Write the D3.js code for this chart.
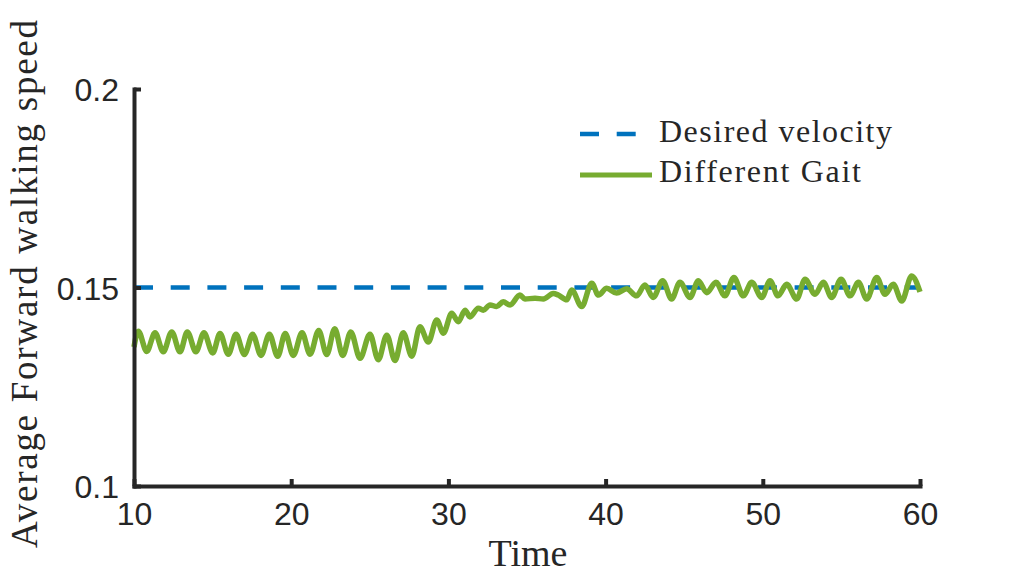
<!DOCTYPE html>
<html>
<head>
<meta charset="utf-8">
<script src="https://cdn.jsdelivr.net/npm/d3@7"></script>
<style>
  html, body { margin: 0; padding: 0; background: #ffffff; }
  svg { display: block; }
</style>
</head>
<body>
<svg id="chart" width="1017" height="580"></svg>
<script>
// ---- data ----
const xTicks = [10, 20, 30, 40, 50, 60];
const yTicks = [0.1, 0.15, 0.2];
const yTickLabels = ["0.1", "0.15", "0.2"];
const seriesNames = ["Desired velocity", "Different Gait"];

const desiredTime = [10, 60];
const desiredSpeed = [0.15, 0.15];

const gaitTime = [
  10.00, 10.27, 10.81, 11.34, 11.86, 12.40, 12.93, 13.39, 13.94, 14.45,
  15.01, 15.47, 16.00, 16.49, 17.02, 17.55, 18.08, 18.61, 19.14, 19.62,
  20.13, 20.69, 21.20, 21.75, 22.26, 22.77, 23.28, 23.79, 24.38, 25.01,
  25.54, 26.08, 26.60, 27.13, 27.67, 28.19, 28.72, 29.26, 29.68, 30.21,
  30.63, 31.06, 31.37, 31.90, 32.22, 32.65, 33.07, 33.49, 33.92, 34.55,
  34.87, 35.51, 36.04, 36.67, 36.99, 37.53, 37.84, 38.48, 39.12, 39.54,
  40.07, 40.70, 41.34, 41.97, 42.50, 43.03, 43.63, 44.20, 44.73, 45.37,
  45.90, 46.43, 47.02, 47.59, 48.16, 48.76, 49.29, 49.93, 50.46, 50.97,
  51.52, 52.16, 52.69, 53.32, 53.85, 54.38, 54.98, 55.55, 56.08, 56.61,
  57.25, 57.77, 58.30, 58.84, 59.47, 60.00
];
const gaitSpeed = [
  0.1350, 0.1390, 0.1339, 0.1386, 0.1338, 0.1388, 0.1338, 0.1388, 0.1338, 0.1386,
  0.1335, 0.1384, 0.1332, 0.1382, 0.1331, 0.1382, 0.1329, 0.1382, 0.1327, 0.1384,
  0.1329, 0.1386, 0.1332, 0.1392, 0.1331, 0.1396, 0.1329, 0.1388, 0.1322, 0.1382,
  0.1318, 0.1380, 0.1316, 0.1386, 0.1327, 0.1401, 0.1363, 0.1418, 0.1385, 0.1435,
  0.1414, 0.1443, 0.1426, 0.1448, 0.1443, 0.1456, 0.1452, 0.1464, 0.1456, 0.1481,
  0.1471, 0.1473, 0.1471, 0.1485, 0.1481, 0.1469, 0.1494, 0.1452, 0.1511, 0.1481,
  0.1498, 0.1486, 0.1497, 0.1479, 0.1506, 0.1475, 0.1517, 0.1471, 0.1513, 0.1475,
  0.1517, 0.1487, 0.1513, 0.1479, 0.1525, 0.1479, 0.1513, 0.1475, 0.1517, 0.1479,
  0.1508, 0.1471, 0.1521, 0.1483, 0.1513, 0.1475, 0.1521, 0.1479, 0.1513, 0.1471,
  0.1525, 0.1483, 0.1508, 0.1466, 0.1529, 0.1489
];

// ---- layout ----
const svg = d3.select("#chart");
const axisColor = "#262626";
const blue = "#0072BD";
const green = "#77AC30";

const x = d3.scaleLinear().domain([10, 60]).range([134, 920]);
const y = d3.scaleLinear().domain([0.1, 0.2]).range([486, 89]);

const line = d3.line()
  .x(d => x(d[0]))
  .y(d => y(d[1]));

// Desired velocity (dashed)
const desiredData = desiredTime.map((t, i) => [t, desiredSpeed[i]]);
svg.append("path")
  .datum(desiredData)
  .attr("d", line)
  .attr("fill", "none")
  .attr("stroke", blue)
  .attr("stroke-width", 4.5)
  .attr("stroke-dasharray", "19 17.7");

// Different Gait (solid)
const gaitData = gaitTime.map((t, i) => [t, gaitSpeed[i]]);
svg.append("path")
  .datum(gaitData)
  .attr("d", line.curve(d3.curveMonotoneX))
  .attr("fill", "none")
  .attr("stroke", green)
  .attr("stroke-width", 5.5)
  .attr("stroke-linejoin", "round");

// ---- axes ----
const xAxis = d3.axisBottom(x)
  .tickValues(xTicks)
  .tickFormat(d3.format("d"))
  .tickSizeInner(-7)
  .tickSizeOuter(0)
  .tickPadding(16);

const gx = svg.append("g")
  .attr("transform", `translate(0,${y(0.1)})`)
  .call(xAxis);

const yAxis = d3.axisLeft(y)
  .tickValues(yTicks)
  .tickFormat((d, i) => yTickLabels[i])
  .tickSizeInner(-7)
  .tickSizeOuter(0)
  .tickPadding(15);

const gy = svg.append("g")
  .attr("transform", `translate(${x(10)},0)`)
  .call(yAxis);

[gx, gy].forEach(g => {
  g.select(".domain")
    .attr("stroke", axisColor)
    .attr("stroke-width", 4)
    .attr("stroke-linecap", "square");
  g.selectAll(".tick line")
    .attr("stroke", axisColor)
    .attr("stroke-width", 4);
  g.selectAll(".tick text")
    .attr("fill", axisColor)
    .style("font-family", "'Liberation Sans', Arial, sans-serif")
    .style("font-size", "32px");
});
gy.selectAll(".tick text").attr("dy", "0.36em");

// ---- axis labels ----
svg.append("text")
  .attr("x", 528)
  .attr("y", 566)
  .attr("text-anchor", "middle")
  .attr("fill", axisColor)
  .style("font-family", "'Liberation Serif', 'Times New Roman', serif")
  .style("font-size", "38px")
  .text("Time");

svg.append("text")
  .attr("transform", "translate(37,284) rotate(-90)")
  .attr("text-anchor", "middle")
  .attr("fill", axisColor)
  .attr("textLength", 528)
  .attr("lengthAdjust", "spacing")
  .style("font-family", "'Liberation Serif', 'Times New Roman', serif")
  .style("font-size", "37px")
  .text("Average Forward walking speed");

// ---- legend ----
const legend = svg.append("g");
const legendRows = [
  { name: seriesNames[0], color: blue, dash: "19 17.7", width: 4.5, ly: 134, ty: 142, len: 233 },
  { name: seriesNames[1], color: green, dash: null, width: 5, ly: 175, ty: 182, len: 202 }
];
legendRows.forEach(r => {
  legend.append("line")
    .attr("x1", 580).attr("x2", 652)
    .attr("y1", r.ly).attr("y2", r.ly)
    .attr("stroke", r.color)
    .attr("stroke-width", r.width)
    .attr("stroke-dasharray", r.dash);
  legend.append("text")
    .attr("x", 659)
    .attr("y", r.ty)
    .attr("fill", axisColor)
    .attr("textLength", r.len)
    .attr("lengthAdjust", "spacing")
    .style("font-family", "'Liberation Serif', 'Times New Roman', serif")
    .style("font-size", "32px")
    .text(r.name);
});
</script>
</body>
</html>
